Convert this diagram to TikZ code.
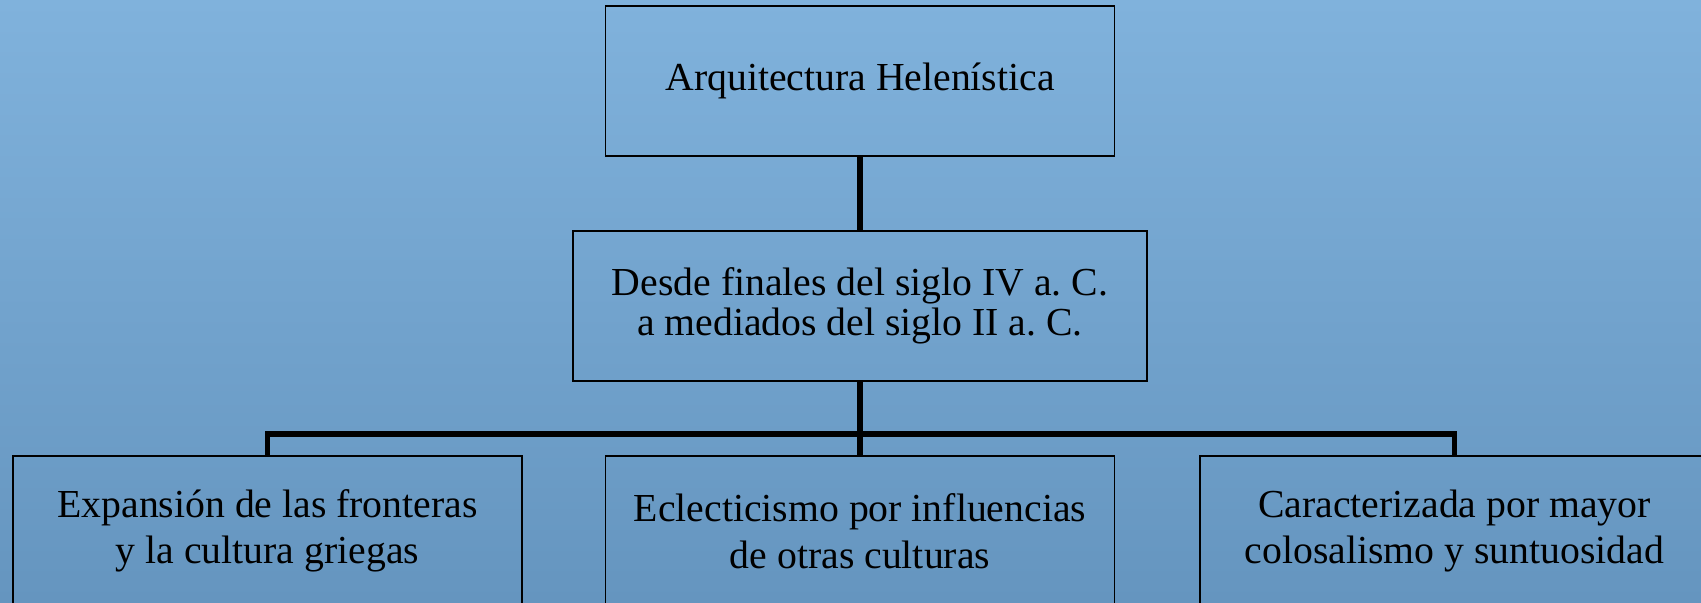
\documentclass[tikz,border=0pt]{standalone}
\usepackage{fontspec}
\setmainfont{Liberation Serif}
\usepackage{tikz}
\usetikzlibrary{positioning}
\definecolor{SkyTop}{HTML}{80B2DC}
\definecolor{SkyBottom}{HTML}{6595BF}
\frenchspacing

\begin{document}
\begin{tikzpicture}[
    font=\fontsize{11.3}{11.5}\selectfont,
    box/.style={draw=black,line width=0.5pt,align=center,minimum width=5.09cm,minimum height=1.5cm,inner sep=2pt},
    leaf/.style={box,font=\fontsize{11.3}{13.2}\selectfont},
    link/.style={draw=black,line width=1.6pt}
  ]
    % background
    \shade[top color=SkyTop,bottom color=SkyBottom] (0,0) rectangle (17.01,-6.02);
    \useasboundingbox (0,0) rectangle (17.01,-6.02);
    \clip (0,0) rectangle (17.01,-6.02);
    \node[box] (top) at (8.6,-0.81) {Arquitectura Helenística};
    \node[box,minimum width=5.74cm] (mid) at (8.6,-3.06) {Desde finales del siglo IV a. C.\\a mediados del siglo II a. C.};
    \node[leaf] (b1) at (2.675,-5.31) {Expansión de las fronteras\\y la cultura griegas};
    \node[leaf] (b2) at (8.6,-5.31) {Eclecticismo por influencias\\de otras culturas};
    \node[leaf] (b3) at (14.545,-5.31) {Caracterizada por mayor\\colosalismo y suntuosidad};
    \coordinate (bus) at (8.6,-4.34);
    \draw[link] (top.south) -- (mid.north);
    \draw[link] (mid.south) -- (b2.north);
    \draw[link] (b1.north) |- (bus) -| (b3.north);
  \end{tikzpicture}
\end{document}
